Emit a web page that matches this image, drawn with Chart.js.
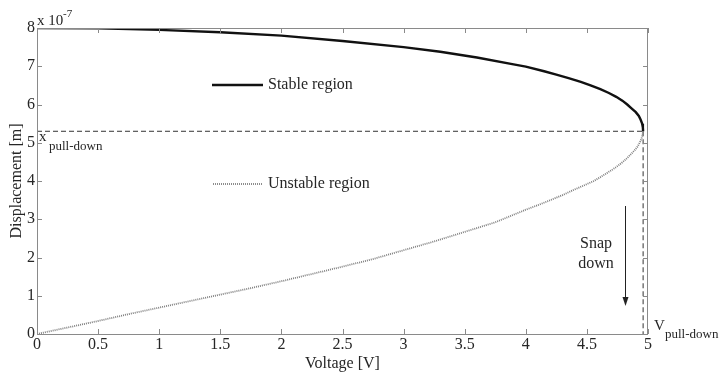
<!DOCTYPE html>
<html>
<head>
<meta charset="utf-8">
<script src="https://cdn.jsdelivr.net/npm/chart.js@4.4.1/dist/chart.umd.min.js"></script>
<style>
  html, body { margin: 0; padding: 0; background: #fff; }
  #wrap { width: 720px; height: 373px; position: relative; }
</style>
</head>
<body>
<div id="wrap"><canvas id="pullChart"></canvas></div>
<script>
/* ── Data (displacement in units of 1e-7 m) ── */
const stableVoltage = [0, 0.5, 1.0, 1.5, 2.0, 2.5, 3.0, 3.3, 3.6, 3.9, 4.0, 4.15, 4.25, 4.35, 4.45, 4.53, 4.61, 4.68, 4.74, 4.79, 4.83, 4.865, 4.9, 4.925, 4.94, 4.952, 4.958, 4.96];
const stableDisp    = [8.0, 7.99, 7.95, 7.89, 7.80, 7.66, 7.50, 7.38, 7.23, 7.05, 6.99, 6.87, 6.78, 6.69, 6.59, 6.50, 6.40, 6.30, 6.20, 6.10, 6.0, 5.9, 5.8, 5.7, 5.6, 5.5, 5.4, 5.3];

const unstableVoltage = [0, 0.25, 0.5, 0.75, 1.0, 1.25, 1.5, 1.75, 2.0, 2.25, 2.5, 2.75, 3.0, 3.25, 3.5, 3.75, 4.0, 4.1, 4.2, 4.3, 4.4, 4.48, 4.556, 4.61, 4.66, 4.71, 4.755, 4.795, 4.83, 4.86, 4.89, 4.915, 4.932, 4.946, 4.955, 4.96];
const unstableDisp    = [0, 0.17, 0.34, 0.52, 0.69, 0.86, 1.03, 1.20, 1.38, 1.57, 1.76, 1.96, 2.19, 2.42, 2.67, 2.92, 3.25, 3.37, 3.50, 3.63, 3.78, 3.89, 4.0, 4.1, 4.2, 4.3, 4.4, 4.5, 4.6, 4.7, 4.8, 4.9, 5.0, 5.1, 5.2, 5.3];

const V_PULL = 4.96;
const X_PULL = 5.3;

const xTicks = [0, 0.5, 1, 1.5, 2, 2.5, 3, 3.5, 4, 4.5, 5];
const yTicks = [0, 1, 2, 3, 4, 5, 6, 7, 8];

const SERIF = "'Liberation Serif', 'Times New Roman', serif";
const TEXT = '#262626';
const FRAME = '#8a8a8a';

const toPoints = (xs, ys) => xs.map((x, i) => ({ x, y: ys[i] }));

/* ── Frame, inside ticks and annotations ── */
const decorPlugin = {
  id: 'decor',
  afterDatasetsDraw(chart) {
    const { ctx, chartArea: a, scales: { x, y } } = chart;
    ctx.save();

    // box + inward ticks on all four sides
    ctx.strokeStyle = FRAME;
    ctx.lineWidth = 1;
    ctx.strokeRect(a.left + 0.5, a.top + 0.5, a.right - a.left - 1, a.bottom - a.top);
    ctx.beginPath();
    xTicks.forEach(v => {
      const px = Math.round(x.getPixelForValue(v)) + 0.5;
      ctx.moveTo(px, a.bottom); ctx.lineTo(px, a.bottom - 5);
      ctx.moveTo(px, a.top); ctx.lineTo(px, a.top + 5);
    });
    yTicks.forEach(v => {
      const py = Math.round(y.getPixelForValue(v)) + 0.5;
      ctx.moveTo(a.left, py); ctx.lineTo(a.left + 5, py);
      ctx.moveTo(a.right, py); ctx.lineTo(a.right - 5, py);
    });
    ctx.stroke();

    // legend-like labels inside the plot
    ctx.lineWidth = 2.4;
    ctx.strokeStyle = '#111';
    ctx.beginPath(); ctx.moveTo(212, 85); ctx.lineTo(263, 85); ctx.stroke();
    ctx.strokeStyle = '#808080';
    ctx.lineWidth = 1.8;
    ctx.setLineDash([1, 1]);
    ctx.beginPath(); ctx.moveTo(213, 184); ctx.lineTo(263, 184); ctx.stroke();
    ctx.setLineDash([]);

    ctx.fillStyle = TEXT;
    ctx.textBaseline = 'middle';
    ctx.font = `16px ${SERIF}`;
    ctx.fillText('Stable region', 268, 85);
    ctx.fillText('Unstable region', 268, 184);

    // exponent
    ctx.textBaseline = 'alphabetic';
    ctx.font = `15px ${SERIF}`;
    ctx.fillText('x 10', 37, 25);
    ctx.font = `11px ${SERIF}`;
    ctx.fillText('-7', 63, 17);

    // x pull-down label
    ctx.font = `15px ${SERIF}`;
    ctx.fillText('x', 39, 141);
    ctx.font = `13px ${SERIF}`;
    ctx.fillText('pull-down', 49, 150);

    // V pull-down label
    ctx.font = `15px ${SERIF}`;
    ctx.fillText('V', 654, 330);
    ctx.font = `13px ${SERIF}`;
    ctx.fillText('pull-down', 665, 338);

    // snap down
    ctx.font = `16px ${SERIF}`;
    ctx.textAlign = 'center';
    ctx.fillText('Snap', 596, 248);
    ctx.fillText('down', 596, 268);

    ctx.strokeStyle = '#222';
    ctx.fillStyle = '#222';
    ctx.lineWidth = 1;
    ctx.beginPath(); ctx.moveTo(625.5, 206); ctx.lineTo(625.5, 298); ctx.stroke();
    ctx.beginPath();
    ctx.moveTo(625.5, 306); ctx.lineTo(622.5, 297); ctx.lineTo(628.5, 297); ctx.closePath();
    ctx.fill();

    ctx.restore();
  },
};

new Chart(document.getElementById('pullChart'), {
  type: 'scatter',
  data: {
    datasets: [
      {
        label: 'Stable region',
        data: toPoints(stableVoltage, stableDisp),
        showLine: true,
        borderColor: '#111',
        borderWidth: 2.4,
        pointRadius: 0,
        tension: 0,
      },
      {
        label: 'Unstable region',
        data: toPoints(unstableVoltage, unstableDisp),
        showLine: true,
        borderColor: '#808080',
        borderWidth: 1.8,
        borderDash: [1, 1],
        pointRadius: 0,
        tension: 0,
      },
      {
        label: 'x pull-down',
        data: toPoints([0, V_PULL], [X_PULL, X_PULL]),
        showLine: true,
        borderColor: '#333',
        borderWidth: 1,
        borderDash: [5, 3],
        pointRadius: 0,
      },
      {
        label: 'V pull-down',
        data: toPoints([V_PULL, V_PULL], [X_PULL, 0]),
        showLine: true,
        borderColor: '#333',
        borderWidth: 1,
        borderDash: [5, 3],
        pointRadius: 0,
      },
    ],
  },
  plugins: [decorPlugin],
  options: {
    responsive: true,
    maintainAspectRatio: false,
    animation: false,
    layout: { padding: { top: 28, right: 72, left: 0, bottom: 0 } },
    plugins: { legend: { display: false }, tooltip: { enabled: false } },
    scales: {
      x: {
        type: 'linear',
        min: 0,
        max: 5,
        afterFit: s => { s.height = 39; },
        afterBuildTicks: s => { s.ticks = xTicks.map(value => ({ value })); },
        grid: { display: false, drawTicks: false },
        border: { display: false },
        ticks: { color: TEXT, padding: 1, font: { family: SERIF, size: 16 }, callback: v => String(v) },
        title: { display: true, text: 'Voltage [V]', color: TEXT, padding: 0, font: { family: SERIF, size: 16 } },
      },
      y: {
        type: 'linear',
        min: 0,
        max: 8,
        afterFit: s => { s.width = 37; },
        afterBuildTicks: s => { s.ticks = yTicks.map(value => ({ value })); },
        grid: { display: false, drawTicks: false },
        border: { display: false },
        ticks: { color: TEXT, padding: 2, font: { family: SERIF, size: 16 }, callback: v => String(v) },
        title: { display: true, text: 'Displacement [m]', color: TEXT, padding: { top: 7 }, font: { family: SERIF, size: 16 } },
      },
    },
  },
});
</script>
</body>
</html>
